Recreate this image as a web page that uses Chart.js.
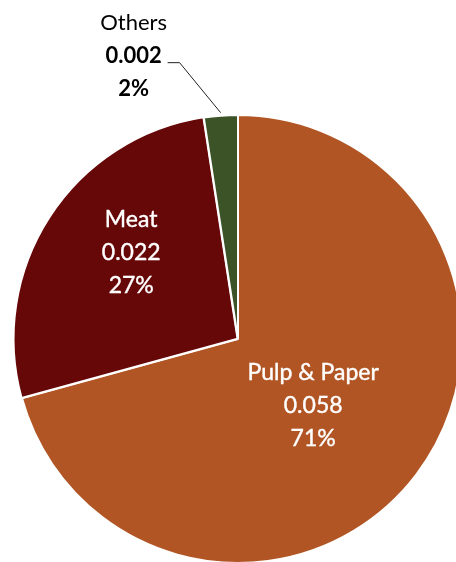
<!DOCTYPE html>
<html>
<head>
<meta charset="utf-8">
<script src="https://cdn.jsdelivr.net/npm/chart.js@4.4.1/dist/chart.umd.min.js"></script>
<style>
  html, body { margin: 0; padding: 0; background: #fff; overflow: hidden; }
  #wrap { position: absolute; left: 0; top: 0; width: 476px; height: 580px; }
</style>
</head>
<body>
<div id="wrap"><canvas id="pie"></canvas></div>
<script>
const categorias = ["Pulp & Paper", "Meat", "Others"];
const valores = [0.058, 0.022, 0.002];
const etiquetasValor = ["0.058", "0.022", "0.002"];
const colores = ["#B05523", "#660708", "#3B5327"];

const ctx = document.getElementById("pie");

// etiquetas dentro / fuera de cada sector
const etiquetasPie = {
  id: "etiquetasPie",
  afterDatasetsDraw(chart) {
    const c = chart.ctx;
    const meta = chart.getDatasetMeta(0);
    const total = valores.reduce((a, b) => a + b, 0);
    const dentro = [0.45, 0.6];
    const ajuste = [[-5, 5], [6, -13]];
    c.save();
    c.textAlign = "center";
    c.textBaseline = "middle";
    meta.data.forEach((arc, i) => {
      const mid = (arc.startAngle + arc.endAngle) / 2;
      const pct = Math.round(valores[i] / total * 100) + "%";
      const lineas = [categorias[i], etiquetasValor[i], pct];
      if (i < 2) {
        const r = arc.outerRadius * dentro[i];
        const x = arc.x + Math.cos(mid) * r + ajuste[i][0];
        const y = arc.y + Math.sin(mid) * r + ajuste[i][1];
        c.fillStyle = "#ffffff";
        c.font = "23px Lato";
        lineas.forEach((t, k) => {
          c.fillText(t, x, y + (k - 1) * 33);
          // trazo fino para dar algo mas de peso al texto
          c.lineWidth = 0.4;
          c.strokeStyle = "#ffffff";
          c.strokeText(t, x, y + (k - 1) * 33);
        });
      } else {
        // etiqueta externa con linea guia
        const ax = arc.x + Math.cos(mid) * (arc.outerRadius + 3);
        const ay = arc.y + Math.sin(mid) * (arc.outerRadius + 3);
        const ex = ax - 41, ey = ay - 50;
        const fx = ex - 12;
        c.strokeStyle = "#222";
        c.lineWidth = 1;
        c.beginPath();
        c.moveTo(ax, ay);
        c.lineTo(ex, ey);
        c.lineTo(fx, ey);
        c.stroke();
        const tx = fx - 34;
        c.fillStyle = "#000";
        c.font = "22px Lato";
        c.fillText(lineas[0], tx, ey - 40);
        c.font = "bold 22px Lato";
        c.fillText(lineas[1], tx, ey - 7);
        c.fillText(lineas[2], tx, ey + 26);
      }
    });
    c.restore();
  }
};

new Chart(ctx, {
  type: "pie",
  data: {
    labels: categorias,
    datasets: [{
      data: valores,
      backgroundColor: colores,
      borderColor: "#ffffff",
      borderWidth: 2,
      offset: [0, 2, 0]
    }]
  },
  options: {
    responsive: true,
    maintainAspectRatio: false,
    animation: false,
    layout: { padding: { left: 12, top: 113, right: 12, bottom: 15 } },
    plugins: {
      legend: { display: false },
      tooltip: { enabled: false }
    }
  },
  plugins: [etiquetasPie]
});
</script>
</body>
</html>
